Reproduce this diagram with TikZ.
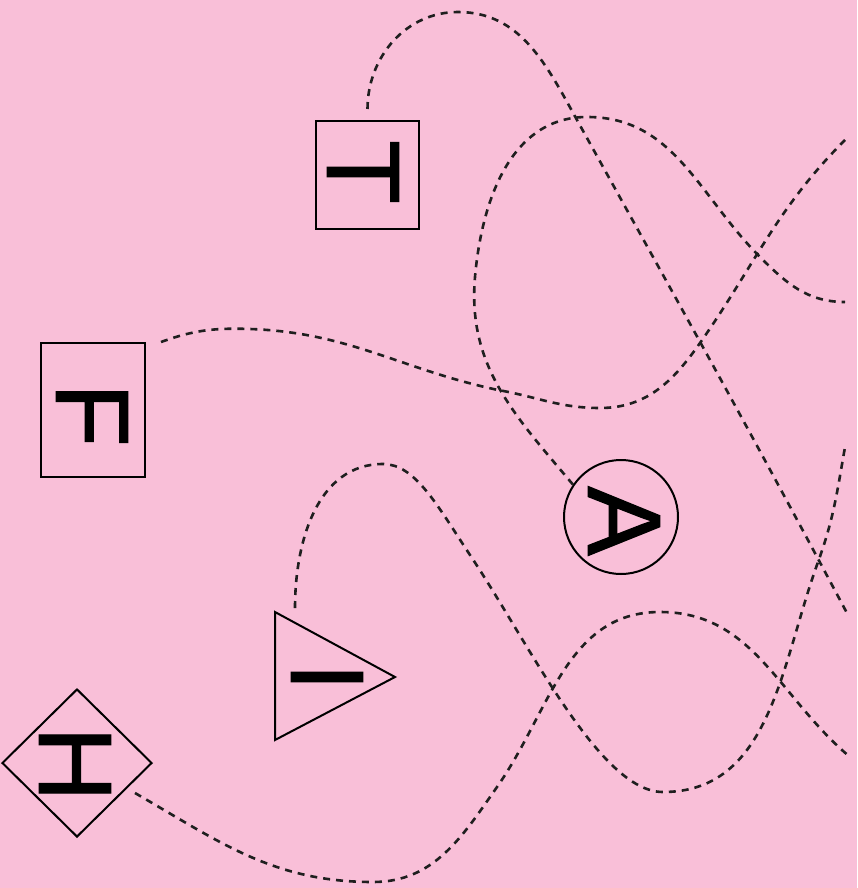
\documentclass[tikz,border=0pt]{standalone}
\usepackage{fontspec}
\setmainfont{Liberation Sans}
\newfontfamily\letterfont{Liberation Sans}[FakeBold=1.2]
\usetikzlibrary{shapes.geometric}
\definecolor{bgpink}{RGB}{249,191,216}
\begin{document}
\begin{tikzpicture}[x=1pt,y=1pt,
  shapebox/.style={draw=black, line width=2pt, inner sep=0pt},
  letter/.style={rotate=-90, inner sep=0pt, text=black, font=\letterfont\fontsize{104}{104}\selectfont},
  conn/.style={draw=black!88, line width=2.6pt, dash pattern=on 7pt off 6pt}]
\fill[bgpink] (0,0) rectangle (857,-888);
\useasboundingbox (0,0) rectangle (857,-888);

% shapes
\node[shapebox, rectangle, minimum width=103pt, minimum height=108pt] (T) at (367.5,-175) {};
\node[shapebox, rectangle, minimum width=104pt, minimum height=134pt] (F) at (93,-410) {};
\node[shapebox, circle, minimum size=114pt] (A) at (621,-517) {};
\node[shapebox, diamond, minimum width=150pt, minimum height=148pt] (H) at (77,-763) {};
\coordinate (I1) at (275,-612);
\coordinate (I2) at (395,-677);
\coordinate (I3) at (275,-740);
\draw[line width=2pt, line join=miter] (I1) -- (I2) -- (I3) -- cycle;

% letters
\node[letter] (Tl) at (363,-172) {T};
\node[letter] (Fl) at (92,-415) {F};
\node[letter] (Al) at (624,-521) {A};
\node[letter] (Il) at (327,-677) {I};
\node[letter] (Hl) at (75,-764) {H};

% connector ends
\coordinate (Ts) at ([yshift=11pt]T.north);
\coordinate (Fs) at ([xshift=15pt]F.north east);
\coordinate (As) at (A.146);
\coordinate (Is) at (295,-608);
\coordinate (Hs) at (135,-793);
\coordinate (Te) at (848,-615);
\coordinate (Ae) at (845,-302);
\coordinate (Fe) at (845,-140);
\coordinate (Ie) at (845,-447);
\coordinate (He) at (850,-757);

% connectors
\draw[conn] (Ts) to[out=90,in=180] (458,-12) to[out=0,in=119] (577,-120) to[out=-61,in=118] (Te);
\draw[conn] (As) to[out=130,in=-95] (475,-277) to[out=85,in=180] (587,-117) to[out=0,in=135] (760,-257) to[out=-45,in=180] (Ae);
\draw[conn] (Fs) to[out=20,in=178] (250,-329) to[out=-2,in=168] (498,-390) to[out=-10,in=180] (600,-408) to[out=0,in=-125] (700,-343) to[out=55,in=-135] (Fe);
\draw[conn] (Is) to[out=90,in=180] (383,-464) .. controls (415,-464) and (437,-505) .. (470,-555) .. controls (530,-645) and (600,-792) .. (663,-792) to[out=0,in=-110] (818,-562) to[out=70,in=-100] (Ie);
\draw[conn] (Hs) to[out=-30,in=180] (373,-882) to[out=0,in=-125] (497,-787) to[out=55,in=180] (660,-612) to[out=0,in=140] (He);
\end{tikzpicture}
\end{document}
